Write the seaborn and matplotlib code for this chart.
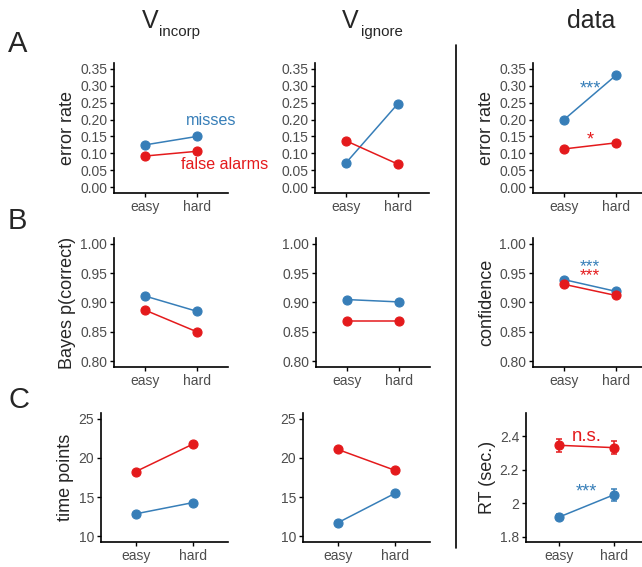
import numpy as np
import pandas as pd
import matplotlib
matplotlib.use('Agg')
import matplotlib.pyplot as plt
import seaborn as sns

sns.set_style('ticks')
plt.rcParams['font.family'] = ['Liberation Sans', 'DejaVu Sans']

# 資料
levels = ['easy', 'hard']
kinds = ['misses', 'false alarms']

err_incorp_miss = [0.125, 0.150]
err_incorp_fa = [0.092, 0.106]
err_ignore_miss = [0.072, 0.247]
err_ignore_fa = [0.137, 0.068]
err_data_miss = [0.200, 0.331]
err_data_fa = [0.113, 0.131]

pc_incorp_miss = [0.911, 0.885]
pc_incorp_fa = [0.887, 0.850]
pc_ignore_miss = [0.905, 0.901]
pc_ignore_fa = [0.868, 0.868]
conf_miss = [0.939, 0.919]
conf_fa = [0.931, 0.912]

tp_incorp_miss = [12.85, 14.3]
tp_incorp_fa = [18.25, 21.8]
tp_ignore_miss = [11.7, 15.5]
tp_ignore_fa = [21.1, 18.4]

rt_miss = [1.918, 2.051]
rt_fa = [2.345, 2.331]
rt_miss_se = [0.018, 0.036]
rt_fa_se = [0.038, 0.039]

BLUE = '#377EB8'
RED = '#E41A1C'
palette = {'misses': BLUE, 'false alarms': RED}
TICK_GRAY = '#4D4D4D'

W, H = 642, 567
fig = plt.figure(figsize=(W / 100, H / 100), dpi=100)


def make_ax(l, t, r, b):
    return fig.add_axes([l / W, 1 - b / H, (r - l) / W, (b - t) / H])


def frame(miss, fa):
    return pd.DataFrame({
        'difficulty': levels * 2,
        'value': list(miss) + list(fa),
        'kind': [kinds[0]] * 2 + [kinds[1]] * 2,
    })


def draw(ax, miss, fa, ylim, yticks, ylabel=None, ticklabels=None):
    sns.pointplot(data=frame(miss, fa), x='difficulty', y='value', hue='kind',
                  order=levels, hue_order=kinds, palette=palette, errorbar=None,
                  markersize=6.5, linewidth=1.1, legend=False, ax=ax)
    ax.set_xlim(-0.6, 1.6)
    ax.set_ylim(*ylim)
    ax.set_yticks(yticks)
    if ticklabels is not None:
        ax.set_yticklabels(ticklabels)
    ax.set_xlabel('')
    ax.set_ylabel(ylabel if ylabel else '', fontsize=13, labelpad=3)
    ax.tick_params(axis='both', labelsize=10, labelcolor=TICK_GRAY, length=2.9,
                   width=1.0, color='black', pad=2)
    for s in ['left', 'bottom']:
        ax.spines[s].set_linewidth(1.2)
        ax.spines[s].set_color('black')
    sns.despine(ax=ax)
    ax.patch.set_alpha(0)


err_ticks = np.arange(0, 0.351, 0.05)
err_labels = [f'{v:.2f}' for v in err_ticks]
err_lim = (-0.0175, 0.3675)
pc_ticks = np.arange(0.80, 1.001, 0.05)
pc_labels = [f'{v:.2f}' for v in pc_ticks]
pc_lim = (0.79, 1.01)
tp_ticks = [10, 15, 20, 25]
tp_lim = (9.25, 25.75)

# 第一列 A
ax = make_ax(114, 63, 228, 193)
draw(ax, err_incorp_miss, err_incorp_fa, err_lim, err_ticks, 'error rate', err_labels)
ax.text(1.28, 0.198, 'misses', color=BLUE, fontsize=11.6, ha='center', va='center')
ax.text(1.53, 0.066, 'false alarms', color=RED, fontsize=11.6, ha='center', va='center')

ax = make_ax(315, 63, 429, 193)
draw(ax, err_ignore_miss, err_ignore_fa, err_lim, err_ticks, None, err_labels)

ax = make_ax(533, 63, 647, 193)
draw(ax, err_data_miss, err_data_fa, err_lim, err_ticks, 'error rate', err_labels)
ax.text(0.5, 0.290, '***', color=BLUE, fontsize=13, ha='center', va='center')
ax.text(0.5, 0.140, '*', color=RED, fontsize=13, ha='center', va='center')

# 第二列 B
ax = make_ax(114, 238, 228, 367)
draw(ax, pc_incorp_miss, pc_incorp_fa, pc_lim, pc_ticks, 'Bayes p(correct)', pc_labels)

ax = make_ax(316, 238, 430, 367)
draw(ax, pc_ignore_miss, pc_ignore_fa, pc_lim, pc_ticks, None, pc_labels)

ax = make_ax(533, 238, 647, 367)
draw(ax, conf_miss, conf_fa, pc_lim, pc_ticks, 'confidence', pc_labels)
ax.text(0.5, 0.962, '***', color=BLUE, fontsize=12.5, ha='center', va='center')
ax.text(0.5, 0.945, '***', color=RED, fontsize=12.5, ha='center', va='center')

# 第三列 C
ax = make_ax(101, 413, 228, 542)
draw(ax, tp_incorp_miss, tp_incorp_fa, tp_lim, tp_ticks, 'time points')

ax = make_ax(303, 413, 430, 542)
draw(ax, tp_ignore_miss, tp_ignore_fa, tp_lim, tp_ticks, None)

ax = make_ax(526, 413, 647, 542)
pos = np.arange(len(levels))
ax.errorbar(pos, rt_miss, yerr=rt_miss_se, fmt='none', ecolor=BLUE,
            elinewidth=1.1, capsize=2.5, capthick=1.1, zorder=1)
ax.errorbar(pos, rt_fa, yerr=rt_fa_se, fmt='none', ecolor=RED,
            elinewidth=1.1, capsize=2.5, capthick=1.1, zorder=1)
draw(ax, rt_miss, rt_fa, (1.77, 2.537), [1.8, 2.0, 2.2, 2.4], 'RT (sec.)',
     ['1.8', '2', '2.2', '2.4'])
ax.text(0.5, 2.065, '***', color=BLUE, fontsize=13, ha='center', va='center')
ax.text(0.5, 2.395, 'n.s.', color=RED, fontsize=13.4, ha='center', va='center')

# 標題與面板字母
fig.text(142 / W, 1 - 28 / H, 'V', fontsize=18, ha='left', va='baseline')
fig.text(159 / W, 1 - 36 / H, 'incorp', fontsize=10.8, ha='left', va='baseline')
fig.text(342 / W, 1 - 28 / H, 'V', fontsize=18, ha='left', va='baseline')
fig.text(361 / W, 1 - 36 / H, 'ignore', fontsize=10.8, ha='left', va='baseline')
fig.text(591 / W, 1 - 28 / H, 'data', fontsize=18, ha='center', va='baseline')

for letter, y in [('A', 52), ('B', 229), ('C', 408)]:
    fig.text(8 / W, 1 - y / H, letter, fontsize=21, ha='left', va='baseline')

# 分隔線
fig.add_artist(plt.Line2D([456 / W, 456 / W], [1 - 45 / H, 1 - 548 / H],
                          color='black', linewidth=1.2))

fig.savefig('out.png', dpi=100)
